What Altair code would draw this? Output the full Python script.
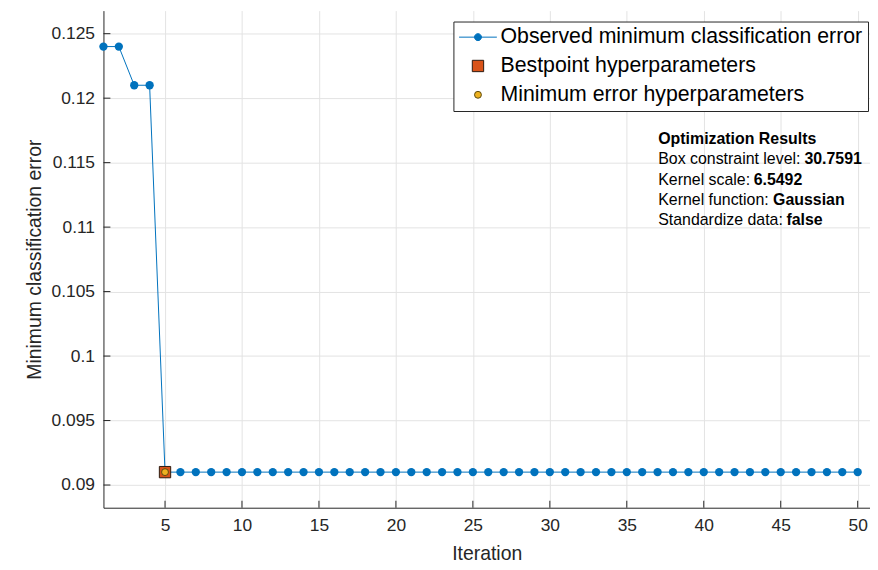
import altair as alt
import pandas as pd

# ---- data ----
iterations = [1, 2, 3, 4, 5, 6, 7, 8, 9, 10, 11, 12, 13, 14, 15, 16, 17, 18, 19, 20,
              21, 22, 23, 24, 25, 26, 27, 28, 29, 30, 31, 32, 33, 34, 35, 36, 37, 38, 39, 40,
              41, 42, 43, 44, 45, 46, 47, 48, 49, 50]
min_error = [0.124, 0.124, 0.121, 0.121, 0.091, 0.091, 0.091, 0.091, 0.091, 0.091,
             0.091, 0.091, 0.091, 0.091, 0.091, 0.091, 0.091, 0.091, 0.091, 0.091,
             0.091, 0.091, 0.091, 0.091, 0.091, 0.091, 0.091, 0.091, 0.091, 0.091,
             0.091, 0.091, 0.091, 0.091, 0.091, 0.091, 0.091, 0.091, 0.091, 0.091,
             0.091, 0.091, 0.091, 0.091, 0.091, 0.091, 0.091, 0.091, 0.091, 0.091]
series_names = ["Observed minimum classification error",
                "Bestpoint hyperparameters",
                "Minimum error hyperparameters"]
marker_iter = [5, 5]
marker_err = [0.091, 0.091]
x_ticks = [5, 10, 15, 20, 25, 30, 35, 40, 45, 50]
y_ticks = [0.09, 0.095, 0.1, 0.105, 0.11, 0.115, 0.12, 0.125]
result_title = "Optimization Results"
result_labels = ["Box constraint level: ", "Kernel scale: ", "Kernel function: ", "Standardize data: "]
result_values = ["30.7591", "6.5492", "Gaussian", "false"]

FONT = "Liberation Sans"
AX = "#262626"
GRID = "#e3e3e3"
BLUE = "#0072BD"

df_line = pd.DataFrame({"iteration": iterations, "error": min_error})
df_mark = pd.DataFrame({"iteration": marker_iter, "error": marker_err,
                        "series": series_names[1:]})
df_xt = pd.DataFrame({"iteration": x_ticks})
df_yt = pd.DataFrame({"error": y_ticks})

xscale = alt.Scale(domain=[1, 50.8], nice=False, zero=False)
yscale = alt.Scale(domain=[0.08824, 0.12679], nice=False, zero=False)
xaxis = alt.Axis(values=x_ticks, grid=True, gridColor=GRID, gridWidth=1,
                 domainColor=AX, domainWidth=1, ticks=False, labelPadding=9,
                 labelFont=FONT, labelFontSize=17.5, labelColor=AX,
                 titleFont=FONT, titleFontSize=19.5, titleFontWeight="normal",
                 titleColor=AX, titlePadding=11)
yaxis = alt.Axis(values=y_ticks, format="~g", grid=True, gridColor=GRID, gridWidth=1,
                 domainColor=AX, domainWidth=1, ticks=False, labelPadding=9,
                 labelFont=FONT, labelFontSize=17.5, labelColor=AX,
                 titleFont=FONT, titleFontSize=19.5, titleFontWeight="normal",
                 titleColor=AX, titlePadding=7)


def X():
    return alt.X("iteration:Q", scale=xscale, axis=xaxis, title="Iteration")


def Y():
    return alt.Y("error:Q", scale=yscale, axis=yaxis, title="Minimum classification error")


xticks = alt.Chart(df_xt).mark_rule(color=AX, strokeWidth=1).encode(
    x=X(), y=alt.value(500), y2=alt.value(493))
yticks = alt.Chart(df_yt).mark_rule(color=AX, strokeWidth=1).encode(
    x=alt.value(0), x2=alt.value(7), y=Y())

line = alt.Chart(df_line).mark_line(color=BLUE, strokeWidth=1).encode(x=X(), y=Y())
dots = alt.Chart(df_line).mark_circle(color=BLUE, size=70, opacity=1).encode(x=X(), y=Y())

legend_path = "M-3.8,0L3.8,0M0.7,0A0.7,0.7,0,1,1,-0.7,0A0.7,0.7,0,1,1,0.7,0Z"
leg = alt.Legend(title=None, orient="none", legendX=352, legendY=11,
                 labelFont=FONT, labelFontSize=21.4, labelColor="#000000",
                 labelLimit=0, labelOffset=12, symbolOffset=9,
                 padding=5, rowPadding=6,
                 strokeColor=AX, fillColor="white", symbolStrokeWidth=1,
                 symbolOpacity=1)
markers = alt.Chart(df_mark).mark_point(filled=True, opacity=1, strokeWidth=1).encode(
    x=X(), y=Y(),
    fill=alt.Fill("series:N", scale=alt.Scale(domain=series_names,
                  range=[BLUE, "#D95319", "#EDB120"]), legend=leg),
    stroke=alt.Stroke("series:N", scale=alt.Scale(domain=series_names,
                      range=[BLUE, "#2b1a10", "#5c4a10"]), legend=leg),
    shape=alt.Shape("series:N", scale=alt.Scale(domain=series_names,
                    range=[legend_path, "square", "circle"]), legend=leg),
    size=alt.Size("series:N", scale=alt.Scale(type="ordinal", domain=series_names,
                  range=[100, 130, 48]), legend=leg),
)

# annotation block
line_y = [154.5, 175, 195.5, 216]
texts = [alt.Chart(pd.DataFrame({"t": [result_title]})).mark_text(
    font=FONT, fontSize=16, fontWeight="bold", align="left", baseline="alphabetic",
    color="#000000").encode(x=alt.value(558), y=alt.value(134), text="t:N")]
offsets = [147, 96, 115.5, 129]
for lab, val, yy, off in zip(result_labels, result_values, line_y, offsets):
    texts.append(alt.Chart(pd.DataFrame({"t": [lab]})).mark_text(
        font=FONT, fontSize=16, align="left", baseline="alphabetic",
        color="#000000").encode(x=alt.value(558), y=alt.value(yy), text="t:N"))
    texts.append(alt.Chart(pd.DataFrame({"t": [val]})).mark_text(
        font=FONT, fontSize=16, fontWeight="bold", align="left", baseline="alphabetic",
        color="#000000", dx=off).encode(x=alt.value(558), y=alt.value(yy), text="t:N"))

chart = alt.layer(xticks, yticks, line, dots, markers, *texts).properties(
    width=771, height=500,
    autosize=alt.AutoSizeParams(type="none"),
    padding={"left": 96, "top": 1, "right": 0, "bottom": 55},
    background="white",
).configure_view(stroke=None)

chart.save("out.html", embed_options={"renderer": "svg", "actions": False})
